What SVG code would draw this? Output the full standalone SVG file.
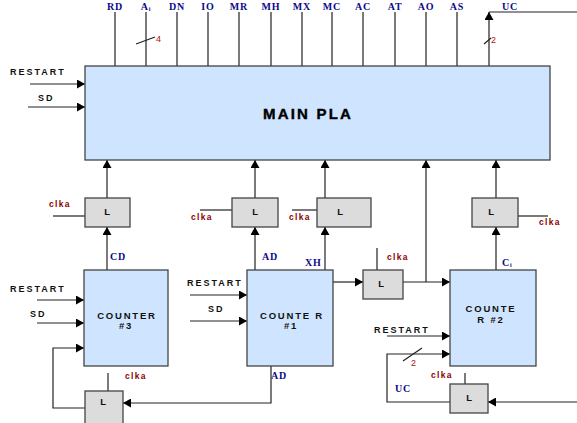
<svg xmlns="http://www.w3.org/2000/svg" width="577" height="423" viewBox="0 0 577 423">
<style>
.blk{fill:#cfe5ff;stroke:#444;stroke-width:1.3}
.lat{fill:#dcdcdc;stroke:#444;stroke-width:1.3}
.w{fill:none;stroke:#222;stroke-width:1.2}
.a{marker-end:url(#ah)}
.sig{font-family:"Liberation Serif",serif;font-weight:bold;font-size:10px;fill:#0a0a8a;letter-spacing:0.8px}
.clk{font-family:"Liberation Sans",sans-serif;font-weight:bold;font-size:8.5px;fill:#8b0000;letter-spacing:1.3px}
.in{font-family:"Liberation Sans",sans-serif;font-weight:bold;font-size:9px;fill:#111;letter-spacing:2px}
.lab{font-family:"Liberation Sans",sans-serif;font-weight:bold;font-size:9.5px;fill:#111;letter-spacing:1.8px;text-anchor:middle}
.num{font-family:"Liberation Sans",sans-serif;font-size:9px;fill:#b01010}
</style>
<defs>
<marker id="ah" markerUnits="userSpaceOnUse" markerWidth="9" markerHeight="9" refX="8" refY="4.5" orient="auto">
<path d="M0,0 L8,4.5 L0,9 z" fill="#000"/>
</marker>
</defs>

<g id="connectors">
<path class="w a" d="M115,66V12M146,66V12M177,66V12M208,66V12M239,66V12M271,66V12M302,66V12M332,66V12M363,66V12M395,66V12M426,66V12M457,66V12M489,66V12"/>
<path class="w" d="M489,12H577"/>
<path class="w" d="M136,44L155,37" stroke="#555"/>
<path class="w" d="M484,44L491,38" stroke="#555"/>
<path class="w a" d="M30,84H85"/>
<path class="w a" d="M28,107H85"/>
<path class="w a" d="M107,198V160"/>
<path class="w a" d="M107,270V227"/>
<path class="w" d="M53,216H85" stroke="#888"/>
<path class="w a" d="M255,198V160"/>
<path class="w a" d="M255,270V227"/>
<path class="w" d="M200,210H232"/>
<path class="w a" d="M325,198V160"/>
<path class="w a" d="M325,270V227"/>
<path class="w" d="M292,210H317"/>
<path class="w a" d="M496,198V160"/>
<path class="w a" d="M496,270V227"/>
<path class="w" d="M518,216H548" stroke="#888"/>
<path class="w a" d="M426,282V160"/>
<path class="w a" d="M333,282H363" stroke="#777"/>
<path class="w a" d="M403,282H450" stroke="#777"/>
<path class="w" d="M377,248V270"/>
<path class="w a" d="M387,336H450"/>
<path class="w a" d="M450,402H387V354H450"/>
<path class="w" d="M403,361L422,348" stroke="#555"/>
<path class="w a" d="M577,402H488"/>
<path class="w" d="M465,373V384"/>
<path class="w a" d="M37,300H84"/>
<path class="w a" d="M37,323H84" stroke="#777"/>
<path class="w a" d="M85,408H53V348H84"/>
<path class="w" d="M108,373V391"/>
<path class="w a" d="M271,366V403H123"/>
<path class="w a" d="M190,295H247"/>
<path class="w a" d="M190,321H247" stroke="#777"/>
</g>

<g id="labels">
<text class="sig" x="115" y="10" text-anchor="middle">RD</text>
<text class="sig" x="146" y="10" text-anchor="middle">A<tspan font-size="6" dy="1">i</tspan></text>
<text class="sig" x="177" y="10" text-anchor="middle">DN</text>
<text class="sig" x="208" y="10" text-anchor="middle">IO</text>
<text class="sig" x="239" y="10" text-anchor="middle">MR</text>
<text class="sig" x="271" y="10" text-anchor="middle">MH</text>
<text class="sig" x="302" y="10" text-anchor="middle">MX</text>
<text class="sig" x="332" y="10" text-anchor="middle">MC</text>
<text class="sig" x="363" y="10" text-anchor="middle">AC</text>
<text class="sig" x="395" y="10" text-anchor="middle">AT</text>
<text class="sig" x="426" y="10" text-anchor="middle">AO</text>
<text class="sig" x="457" y="10" text-anchor="middle">AS</text>
<text class="sig" x="510" y="10" text-anchor="middle">UC</text>
<text class="num" x="156" y="42">4</text>
<text class="num" x="491" y="43">2</text>
<text class="in" x="10" y="75">RESTART</text>
<text class="in" x="38" y="101">SD</text>
<text class="clk" x="49" y="207">clka</text>
<text class="clk" x="191" y="220">clka</text>
<text class="clk" x="289" y="220">clka</text>
<text class="clk" x="539" y="225">clka</text>
<text class="clk" x="387" y="260">clka</text>
<text class="clk" x="431" y="378">clka</text>
<text class="clk" x="125" y="379">clka</text>
<text class="sig" x="110" y="260">CD</text>
<text class="sig" x="262" y="260">AD</text>
<text class="sig" x="305" y="266">XH</text>
<text class="sig" x="502" y="266">C<tspan font-size="6" dy="1">i</tspan></text>
<text class="sig" x="271" y="379">AD</text>
<text class="sig" x="395" y="392">UC</text>
<text class="num" x="411" y="366">2</text>
<text class="in" x="10" y="292">RESTART</text>
<text class="in" x="30" y="317">SD</text>
<text class="in" x="187" y="286">RESTART</text>
<text class="in" x="208" y="312">SD</text>
<text class="in" x="374" y="333">RESTART</text>
</g>

<g id="main-pla">
<rect class="blk" x="85" y="66" width="465" height="94"/>
<text x="308" y="119" font-family="Liberation Sans,sans-serif" font-weight="bold" font-size="15" letter-spacing="2.2" text-anchor="middle" fill="#000" stroke="#000" stroke-width="0.4">MAIN PLA</text>
</g>

<g id="latch1"><rect class="lat" x="85" y="198" width="45" height="29"/><text class="lab" x="108" y="215">L</text></g>
<g id="latch2"><rect class="lat" x="232" y="198" width="46" height="29"/><text class="lab" x="256" y="215">L</text></g>
<g id="latch3"><rect class="lat" x="317" y="198" width="54" height="29"/><text class="lab" x="341" y="215">L</text></g>
<g id="latch4"><rect class="lat" x="472" y="198" width="46" height="29"/><text class="lab" x="492" y="215">L</text></g>
<g id="latch5"><rect class="lat" x="363" y="270" width="40" height="29"/><text class="lab" x="382" y="287">L</text></g>
<g id="latch6"><rect class="lat" x="450" y="384" width="38" height="29"/><text class="lab" x="470" y="401">L</text></g>
<g id="latch7"><rect class="lat" x="85" y="391" width="38" height="33"/><text class="lab" x="104" y="405">L</text></g>

<g id="counter3">
<rect class="blk" x="84" y="270" width="84" height="96"/>
<text class="lab" x="127" y="319">COUNTER</text>
<text class="lab" x="126" y="329">#3</text>
</g>
<g id="counter1">
<rect class="blk" x="247" y="270" width="86" height="96"/>
<text class="lab" x="292" y="319">COUNTE R</text>
<text class="lab" x="291" y="329">#1</text>
</g>
<g id="counter2">
<rect class="blk" x="450" y="270" width="86" height="96"/>
<text class="lab" x="491" y="312">COUNTE</text>
<text class="lab" x="491" y="323">R #2</text>
</g>
</svg>
